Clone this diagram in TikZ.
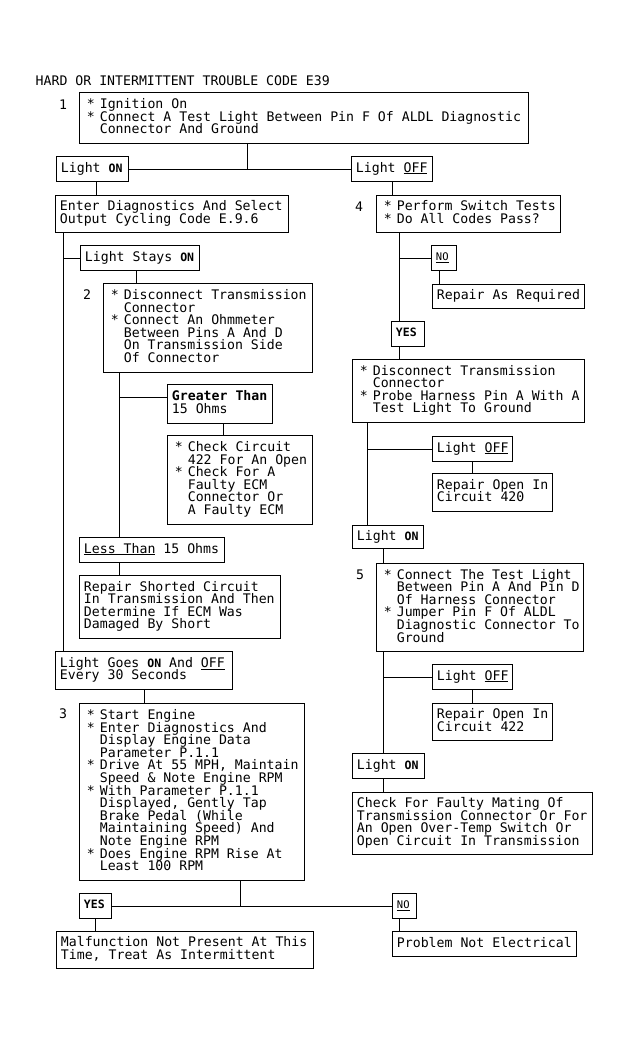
\documentclass[tikz,border=0pt]{standalone}
\usepackage{fontspec}
\newfontfamily\mono{DejaVu Sans Mono}
\newcommand\monofont{\mono\fontsize{13.2bp}{12.6bp}\selectfont\frenchspacing}
\newcommand\stx{\makebox[15.9bp][l]{\hspace{3bp}*}}
\newcommand\ind{\hspace*{15.9bp}}
\newcommand\bON{{\bfseries\fontsize{11.5bp}{12.6bp}\selectfont ON}}
\newcommand\bYES{{\bfseries\fontsize{11.5bp}{12.6bp}\selectfont YES}}
\newcommand\sNO{{\fontsize{10.5bp}{12.6bp}\selectfont\underline{NO}}}
\newcommand\uln[1]{\underline{#1}}
% lines of a box: each line an hbox with a strut, fixed pitch, set in a box of the given width
\newcommand\tb[2]{\makebox[#1][l]{\vbox{\lineskiplimit=-\maxdimen\baselineskip=12.6bp\def\\{\strut\egroup\hbox\bgroup\ignorespaces}\hbox\bgroup\strut\ignorespaces#2\strut\egroup}}}
\tikzset{
  flowbox/.style={draw, line width=0.9bp, anchor=north west,
    inner xsep=4.5bp, inner ysep=0pt, minimum height=#1,
    font=\monofont},
  plain/.style={inner sep=0pt, font=\monofont},
  conn/.style={line width=0.9bp}
}
\begin{document}
\begin{tikzpicture}[x=1bp,y=-1bp]
\fill[white] (0,0) rectangle (630,1044);
\useasboundingbox (0,0) rectangle (630,1044);

\node[plain, anchor=west] (title) at (35.5,80.5) {HARD OR INTERMITTENT TROUBLE CODE E39};
\node[plain] (n1) at (63,105) {1};
\node[plain] (n2) at (87,295) {2};
\node[plain] (n3) at (63,714) {3};
\node[plain] (n4) at (359,207) {4};
\node[plain] (n5) at (360,575) {5};

\node[flowbox=51bp] (b1) at (79,92) {\tb{440bp}{\stx Ignition On\\ \stx Connect A Test Light Between Pin F Of ALDL Diagnostic\\ \ind Connector And Ground}};
\node[flowbox=25bp] (lon1) at (56,156) {\tb{63bp}{Light \bON}};
\node[flowbox=25bp] (loff1) at (351,156) {\tb{72bp}{Light \uln{OFF}}};
\node[flowbox=37bp] (enter) at (55,195) {\tb{224bp}{Enter Diagnostics And Select\\Output Cycling Code E.9.6}};
\node[flowbox=37bp] (b4) at (376,195) {\tb{175bp}{\stx Perform Switch Tests\\ \stx Do All Codes Pass?}};
\node[flowbox=25bp] (lstay) at (80,245) {\tb{110bp}{Light Stays \bON}};
\node[flowbox=25bp] (no1) at (431,245) {\tb{16bp}{\sNO}};
\node[flowbox=89bp] (b2) at (103,283) {\tb{200bp}{\stx Disconnect Transmission\\ \ind Connector\\ \stx Connect An Ohmmeter\\ \ind Between Pins A And D\\ \ind On Transmission Side\\ \ind Of Connector}};
\node[flowbox=24bp] (rar) at (432,284) {\tb{143bp}{Repair As Required}};
\node[flowbox=25bp] (yes1) at (391,321) {\tb{24bp}{\bYES}};
\node[flowbox=63bp] (b6) at (352,359) {\tb{223bp}{\stx Disconnect Transmission\\ \ind Connector\\ \stx Probe Harness Pin A With A\\ \ind Test Light To Ground}};
\node[flowbox=39bp] (greater) at (167,384) {\tb{96bp}{{\bfseries Greater Than}\\15 Ohms}};
\node[flowbox=89bp] (chk) at (167,435) {\tb{136bp}{\stx Check Circuit\\ \ind 422 For An Open\\ \stx Check For A\\ \ind Faulty ECM\\ \ind Connector Or\\ \ind A Faulty ECM}};
\node[flowbox=25bp] (loff2) at (432,436) {\tb{71bp}{Light \uln{OFF}}};
\node[flowbox=38bp] (rep420) at (432,473) {\tb{111bp}{Repair Open In\\Circuit 420}};
\node[flowbox=23bp] (lon2) at (352,525) {\tb{62bp}{Light \bON}};
\node[flowbox=25bp] (less) at (79,537) {\tb{136bp}{\uln{Less Than} 15 Ohms}};
\node[flowbox=88bp] (b5) at (376,563) {\tb{198bp}{\stx Connect The Test Light\\ \ind Between Pin A And Pin D\\ \ind Of Harness Connector\\ \stx Jumper Pin F Of ALDL\\ \ind Diagnostic Connector To\\ \ind Ground}};
\node[flowbox=63bp] (rshort) at (79,575) {\tb{192bp}{Repair Shorted Circuit\\In Transmission And Then\\Determine If ECM Was\\Damaged By Short}};
\node[flowbox=38bp] (lgoes) at (55,651) {\tb{168bp}{Light Goes \bON\ And \uln{OFF}\\Every 30 Seconds}};
\node[flowbox=25bp] (loff3) at (432,664) {\tb{71bp}{Light \uln{OFF}}};
\node[flowbox=37bp] (rep422) at (432,703) {\tb{111bp}{Repair Open In\\Circuit 422}};
\node[flowbox=177bp] (b3) at (79,703) {\tb{216bp}{\stx Start Engine\\ \stx Enter Diagnostics And\\ \ind Display Engine Data\\ \ind Parameter P.1.1\\ \stx Drive At 55 MPH, Maintain\\ \ind Speed \& Note Engine RPM\\ \stx With Parameter P.1.1\\ \ind Displayed, Gently Tap\\ \ind Brake Pedal (While\\ \ind Maintaining Speed) And\\ \ind Note Engine RPM\\ \stx Does Engine RPM Rise At\\ \ind Least 100 RPM}};
\node[flowbox=25bp] (lon3) at (352,753) {\tb{63bp}{Light \bON}};
\node[flowbox=62bp] (chkfm) at (352,792) {\tb{231bp}{Check For Faulty Mating Of\\Transmission Connector Or For\\An Open Over-Temp Switch Or\\Open Circuit In Transmission}};
\node[flowbox=25bp] (yes2) at (79,893) {\tb{23bp}{\bYES}};
\node[flowbox=25bp] (no2) at (392,893) {\tb{15bp}{\sNO}};
\node[flowbox=37bp] (malf) at (56,931) {\tb{248bp}{Malfunction Not Present At This\\Time, Treat As Intermittent}};
\node[flowbox=25bp] (prob) at (392,931) {\tb{175bp}{Problem Not Electrical}};

% column coordinates
\coordinate (j1) at (247,168.5);
\coordinate (x96) at (96,0);
\coordinate (x63) at (63,0);
\coordinate (x136) at (136,0);
\coordinate (x119) at (119,0);
\coordinate (x223) at (223,0);
\coordinate (x399) at (399,0);
\coordinate (x439) at (439,0);
\coordinate (x367) at (367,0);
\coordinate (x383) at (383,0);
\coordinate (j2) at (240,905.5);
\coordinate (gb) at ([yshift=6.5bp]greater.west);

\draw[conn] (b1.south -| j1) -- (j1);
\draw[conn] (lon1.east) -- (loff1.west);
\draw[conn] (lon1.south -| x96) -- (enter.north -| x96);
\draw[conn] (loff1.south) -- (b4.north -| loff1.south);
\draw[conn] (enter.south -| x63) -- (lgoes.north -| x63);
\draw[conn] (lstay.west -| x63) -- (lstay.west);
\draw[conn] (lstay.south -| x136) -- (b2.north -| x136);
\draw[conn] (b2.south -| x119) -- (less.north -| x119);
\draw[conn] (gb -| x119) -- (gb);
\draw[conn] (greater.south -| x223) -- (chk.north -| x223);
\draw[conn] (less.south -| x119) -- (rshort.north -| x119);
\draw[conn] (b4.south -| x399) -- (yes1.north -| x399);
\draw[conn] (no1.west -| x399) -- (no1.west);
\draw[conn] (no1.south -| x439) -- (rar.north -| x439);
\draw[conn] (yes1.south -| x399) -- (b6.north -| x399);
\draw[conn] (b6.south -| x367) -- (lon2.north -| x367);
\draw[conn] (loff2.west -| x367) -- (loff2.west);
\draw[conn] (loff2.south) -- (rep420.north -| loff2.south);
\draw[conn] (lon2.south -| x383) -- (b5.north -| x383);
\draw[conn] (b5.south -| x383) -- (lon3.north -| x383);
\draw[conn] (loff3.west -| x383) -- (loff3.west);
\draw[conn] (loff3.south) -- (rep422.north -| loff3.south);
\draw[conn] (lon3.south -| x383) -- (chkfm.north -| x383);
\draw[conn] (lgoes.south) -- (b3.north -| lgoes.south);
\draw[conn] (b3.south -| j2) -- (j2);
\draw[conn] (yes2.east) -- (no2.west);
\draw[conn] (yes2.south) -- (malf.north -| yes2.south);
\draw[conn] (no2.south -| x399) -- (prob.north -| x399);
\end{tikzpicture}
\end{document}
